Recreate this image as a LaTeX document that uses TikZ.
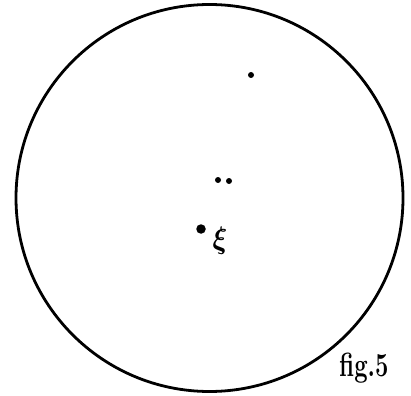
\documentclass[tikz,border=0pt]{standalone}
\usepackage{fontspec}
\usepackage{bm}
\usepackage{graphicx}
\begin{document}
\begin{tikzpicture}[x=1pt,y=-1pt,
  dotmark/.style={circle,fill=black,inner sep=0pt,minimum size=#1},
  lbl/.style={inner sep=0pt,font=\fontsize{28}{32}\selectfont}]
\useasboundingbox (0,0) rectangle (411,395);
\node[draw=black,line width=2.8pt,circle,minimum size=387pt,inner sep=0pt] (disk) at (209.5,198) {};
\node[dotmark=6pt] (d1) at (251,75) {};
\node[dotmark=6pt] (d2) at (218,180) {};
\node[dotmark=6pt] (d3) at (229,181) {};
\node[dotmark=9.5pt] (d4) at (201,229) {};
\node[lbl] (xi) at (220,241) {\scalebox{1.1}[1.25]{$\bm{\xi}$}};
\node[lbl] (fig) at (364,368) {\scalebox{0.85}[1.2]{\bfseries fig.5}};
\end{tikzpicture}
\end{document}
